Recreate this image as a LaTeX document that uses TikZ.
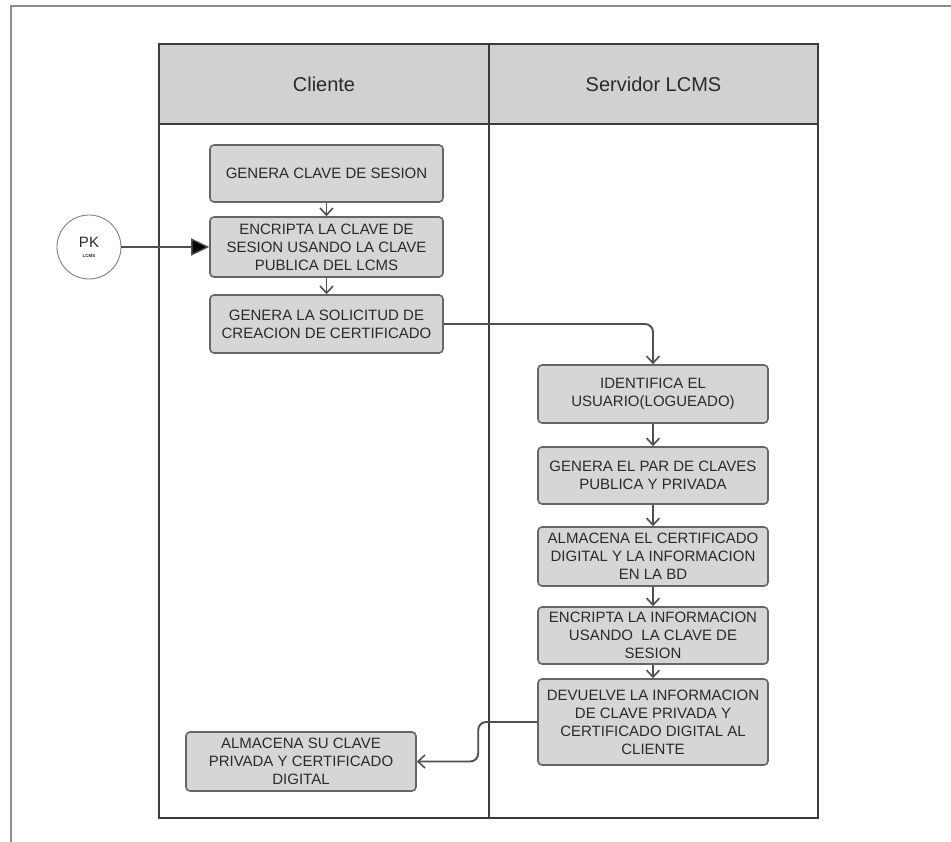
\documentclass[tikz,border=0pt]{standalone}
\usepackage{fontspec}
\setmainfont{Liberation Sans}
\usetikzlibrary{positioning, arrows.meta}

\definecolor{lanegray}{HTML}{3C3C3C}
\definecolor{headgray}{HTML}{D1D1D1}
\definecolor{boxgray}{HTML}{D6D6D6}
\definecolor{edgegray}{HTML}{666666}
\definecolor{linegray}{HTML}{505050}
\definecolor{textgray}{HTML}{2A2A2A}

\begin{document}
\begin{tikzpicture}[x=1pt, y=-1pt,
        lane/.style={draw=lanegray, line width=1.8pt},
        header/.style={text=textgray, font=\fontsize{20}{24}\selectfont},
        process/.style={draw=edgegray, fill=boxgray, line width=1.6pt, rounded corners=4pt,
            text=textgray, align=center, inner sep=0pt, font=\fontsize{15}{18}\selectfont},
        flow/.style={draw=linegray, line width=1.9pt, rounded corners=8pt,
            -{Straight Barb[length=7pt, width=13pt, line width=1.6pt]}}
    ]
        \useasboundingbox (0,0) rectangle (951,842);
        \draw[gray!90, line width=1.3pt] (11,842) -- (11,6) -- (951,6);

        % swimlanes
        \fill[headgray] (159,44) rectangle (818,124);
        \draw[lane] (159,44) rectangle (818,818);
        \draw[lane] (489,44) -- (489,818);
        \draw[lane] (159,124) -- (818,124);
        \node (Cli) [header] at (324,84) {Cliente};
        \node (Srv) [header] at (653.5,84) {Servidor LCMS};

        % cliente
        \node (GenSes) [process, minimum width=233, minimum height=57] at (326.5,173.5)
            {GENERA CLAVE DE SESION};
        \node (EncSes) [process, minimum width=233, minimum height=60] at (326.5,247)
            {ENCRIPTA LA CLAVE DE\\SESION USANDO LA CLAVE\\PUBLICA DEL LCMS};
        \node (Solic) [process, minimum width=233, minimum height=58] at (326.5,324)
            {GENERA LA SOLICITUD DE\\CREACION DE CERTIFICADO};
        \node (AlmSu) [process, minimum width=230, minimum height=59] at (301,761.5)
            {ALMACENA SU CLAVE\\PRIVADA Y CERTIFICADO\\DIGITAL};

        % servidor
        \node (Ident) [process, minimum width=230, minimum height=58] at (653,394)
            {IDENTIFICA EL\\USUARIO(LOGUEADO)};
        \node (GenPar) [process, minimum width=230, minimum height=57] at (653,475.5)
            {GENERA EL PAR DE CLAVES\\PUBLICA Y PRIVADA};
        \node (AlmCert) [process, minimum width=230, minimum height=59] at (653,556.5)
            {ALMACENA EL CERTIFICADO\\DIGITAL Y LA INFORMACION\\EN LA BD};
        \node (EncInf) [process, minimum width=230, minimum height=57] at (653,635.5)
            {ENCRIPTA LA INFORMACION\\USANDO\ \ LA CLAVE DE\\SESION};
        \node (Devu) [process, minimum width=230, minimum height=86] at (653,722)
            {DEVUELVE LA INFORMACION\\DE CLAVE PRIVADA Y\\CERTIFICADO DIGITAL AL\\CLIENTE};

        % llave publica
        \node (PK) [circle, draw=gray, line width=0.9pt, minimum size=64, inner sep=0pt,
            align=center, text=textgray] at (89,247)
            {\fontsize{15}{15}\selectfont PK\\[-2pt]\fontsize{4.5}{4.5}\selectfont\bfseries LCMS};

        \path (PK) edge[draw=linegray, line width=1.3pt,
                -{Triangle[length=18pt, width=17pt, fill=black]}] (EncSes)
              (GenSes) edge[flow] (EncSes)
              (EncSes) edge[flow] (Solic)
              (Ident) edge[flow] (GenPar)
              (GenPar) edge[flow] (AlmCert)
              (AlmCert) edge[flow] (EncInf)
              (EncInf) edge[flow] (Devu);
        \draw[flow] (Solic.east) -| (Ident.north);
        \draw[flow] (Devu.west) -- ++(-59,0) |- (AlmSu.east);
    \end{tikzpicture}
\end{document}
